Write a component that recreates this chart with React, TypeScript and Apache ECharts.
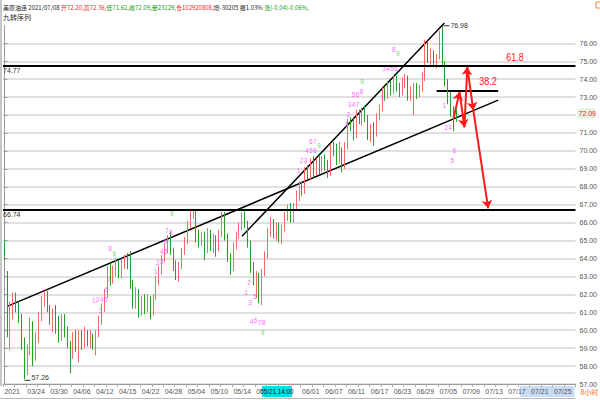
import React, { useEffect, useRef } from "react";
import * as echarts from "echarts";

const FONT = '"Liberation Sans Narrow", "Arial Narrow", "Liberation Sans", Arial, sans-serif';
const CJK = '"Liberation Sans Narrow", "Noto Sans CJK SC", sans-serif';

const slotCount = 200;

const tickLabels = [
  "2021", "03/24", "03/30", "04/06", "04/12", "04/15", "04/22", "04/28", "05/04", "05/10",
  "05/14", "05", "", "06/01", "06/07", "06/11", "06/17", "06/23", "06/29", "07/05",
  "07/09", "07/13", "07/17", "07/21", "07/25",
];

// [open, close, low, high]
const candles: number[][] = [
  [64.8, 64.0, 63.9, 65.0], [63.2, 60.2, 59.6, 63.3], [59.6, 61.4, 58.9, 61.6], [61.4, 61.8, 60.6, 62.1],
  [61.8, 61.3, 61.0, 62.1], [61.3, 60.7, 60.4, 61.6], [60.7, 59.3, 58.9, 60.9], [59.3, 57.6, 57.26, 59.6],
  [57.7, 58.9, 57.5, 59.2], [58.8, 60.3, 58.6, 60.7], [60.3, 58.6, 58.0, 60.5], [58.6, 59.5, 58.3, 59.9],
  [59.5, 60.8, 59.3, 61.0], [60.8, 61.6, 60.5, 61.9], [61.6, 61.9, 61.3, 62.2], [61.9, 61.2, 61.0, 62.2],
  [61.2, 60.6, 60.3, 61.4], [60.5, 61.0, 59.9, 61.2], [61.0, 60.3, 59.8, 61.4], [60.4, 59.6, 59.3, 60.8],
  [59.6, 60.5, 59.4, 60.9], [60.5, 60.0, 59.6, 60.9], [60.0, 59.2, 59.0, 60.2], [59.2, 58.5, 57.6, 59.4],
  [58.6, 59.6, 58.4, 59.9], [59.6, 59.2, 58.8, 60.0], [59.0, 59.8, 58.2, 60.0], [59.7, 59.3, 58.9, 60.0],
  [59.3, 59.9, 59.0, 60.2], [59.8, 59.4, 59.1, 60.0], [59.4, 59.7, 59.0, 60.0], [59.6, 59.1, 58.9, 59.8],
  [59.1, 59.9, 58.6, 60.0], [59.9, 60.6, 59.6, 60.8], [60.5, 61.3, 60.3, 61.5], [61.2, 62.0, 61.0, 62.3],
  [62.0, 63.3, 61.8, 63.6], [63.3, 62.8, 62.5, 63.7], [62.8, 63.4, 62.6, 63.6], [63.4, 63.7, 63.0, 64.0],
  [63.7, 63.2, 62.9, 63.9], [63.2, 63.8, 62.9, 64.0], [63.6, 64.0, 63.4, 64.2], [64.0, 63.6, 63.4, 64.3],
  [64.1, 62.6, 62.3, 64.4], [62.6, 61.6, 61.2, 62.8], [61.6, 62.1, 61.2, 62.4], [62.1, 61.0, 60.7, 62.3],
  [61.0, 61.6, 60.8, 61.9], [61.6, 61.2, 60.9, 62.0], [61.2, 61.7, 61.0, 62.0], [61.7, 60.9, 60.6, 61.9],
  [60.9, 61.9, 60.8, 62.0], [61.9, 62.8, 61.7, 63.0], [62.7, 63.4, 62.5, 63.6], [63.4, 64.0, 63.1, 64.2],
  [64.0, 64.6, 63.8, 64.8], [64.5, 65.1, 64.3, 65.3], [65.1, 64.4, 64.2, 65.5], [64.4, 63.6, 63.3, 64.6],
  [63.6, 63.3, 62.8, 63.9], [63.3, 63.6, 62.7, 63.8], [63.6, 64.4, 63.4, 64.6], [64.4, 65.0, 64.2, 65.2],
  [65.0, 65.9, 64.8, 66.1], [65.9, 66.5, 65.7, 66.7], [66.5, 66.6, 66.2, 66.74], [66.6, 65.3, 64.9, 66.7],
  [65.3, 64.9, 64.6, 65.6], [64.9, 65.3, 64.7, 65.5], [65.3, 64.5, 63.9, 65.5], [64.5, 65.4, 64.3, 65.7],
  [65.4, 64.8, 64.4, 65.6], [64.8, 65.1, 64.3, 65.4], [65.1, 64.5, 64.1, 65.3], [64.5, 65.4, 64.4, 65.6],
  [65.4, 66.4, 65.2, 66.6], [66.4, 65.3, 65.0, 66.6], [65.3, 64.1, 63.8, 65.4], [64.1, 63.4, 63.1, 64.3],
  [63.4, 64.7, 63.3, 64.9], [64.7, 65.3, 64.5, 65.5], [65.3, 65.8, 65.1, 66.0], [65.8, 66.4, 65.6, 66.6],
  [66.4, 65.9, 65.7, 66.7], [65.9, 64.9, 64.6, 66.1], [64.9, 63.5, 63.2, 65.0], [63.5, 62.7, 62.5, 63.8],
  [62.7, 63.0, 61.8, 63.3], [63.0, 61.8, 61.5, 63.2], [61.8, 63.2, 61.4, 63.4], [63.2, 64.2, 63.0, 64.4],
  [64.2, 65.5, 64.0, 65.7], [65.5, 65.9, 65.2, 66.3], [65.9, 65.4, 65.1, 66.2], [65.4, 65.8, 65.0, 66.0],
  [65.8, 65.2, 64.9, 66.0], [65.2, 65.7, 64.8, 65.9], [65.7, 66.3, 65.5, 66.6], [66.3, 66.8, 66.1, 67.0],
  [66.8, 66.2, 66.0, 67.1], [66.2, 66.9, 66.0, 67.1], [66.9, 67.6, 66.7, 67.8], [67.4, 68.1, 67.2, 68.3],
  [68.1, 67.7, 67.5, 68.3], [67.7, 68.9, 67.6, 69.1], [68.9, 68.6, 68.4, 69.2], [68.6, 69.3, 68.4, 69.6],
  [69.3, 68.8, 68.5, 69.7], [68.8, 69.4, 68.6, 69.6], [69.4, 69.0, 68.7, 69.7], [69.0, 69.5, 68.8, 69.7],
  [69.5, 69.2, 68.9, 69.8], [69.2, 68.7, 68.5, 69.5], [68.7, 70.2, 68.6, 70.4], [70.2, 70.0, 69.7, 70.5],
  [70.0, 69.5, 69.2, 70.4], [69.5, 70.1, 69.3, 70.5], [70.1, 69.2, 68.8, 70.2], [69.2, 70.3, 69.0, 70.5],
  [70.3, 71.6, 70.1, 71.8], [71.6, 71.4, 71.1, 71.9], [71.4, 70.8, 70.6, 71.9], [70.8, 72.1, 70.7, 72.3],
  [72.1, 71.7, 71.5, 72.3], [71.7, 72.2, 71.4, 72.4], [72.2, 71.8, 71.6, 72.5], [71.8, 70.8, 70.6, 72.0],
  [70.8, 71.2, 70.5, 71.5], [71.2, 71.0, 70.3, 71.6], [71.0, 71.9, 70.8, 72.1], [71.9, 72.4, 71.7, 72.6],
  [72.4, 73.3, 72.2, 73.5], [73.3, 73.1, 72.8, 73.6], [73.1, 73.6, 72.9, 73.9], [73.6, 73.4, 73.1, 73.9],
  [73.4, 74.0, 73.2, 74.2], [74.0, 73.5, 73.3, 74.2], [73.5, 73.3, 73.0, 73.8], [73.3, 73.9, 73.1, 74.1],
  [73.9, 74.1, 73.5, 74.3], [74.1, 73.0, 72.8, 74.2], [73.0, 73.3, 72.8, 73.6], [73.3, 73.6, 72.0, 73.8],
  [73.6, 73.2, 72.9, 73.8], [73.2, 73.5, 73.0, 73.7], [73.5, 74.2, 73.3, 74.4], [74.2, 76.0, 73.9, 76.2],
  [76.0, 75.1, 74.9, 76.1], [75.1, 75.4, 74.7, 75.7], [75.4, 74.9, 74.7, 75.6], [74.9, 75.2, 74.6, 75.4],
  [75.2, 76.5, 75.1, 76.7], [76.6, 74.9, 74.8, 76.98], [74.9, 73.8, 73.6, 75.0], [73.8, 73.1, 72.6, 74.0],
  [73.1, 72.2, 71.9, 73.3], [72.2, 71.4, 71.1, 72.5], [72.2, 72.09, 71.62, 72.36],
];

const levels = [74.77, 66.74];

// trend lines: [[slot, price], [slot, price]]
const trendLines = [
  [[0.9, 61.33], [172.5, 72.83]],
  [[83.0, 65.24], [153.7, 77.13]],
];
const shortLevel = [[151, 73.33], [172.5, 73.33]];

// red zig-zag projection
const arrowPath = [
  [156.9, 71.82], [159.0, 73.28], [160.7, 71.32], [161.7, 74.68], [163.8, 72.27], [169.0, 66.8],
];

// TD sequence count labels
const tdSlot = [
  31.2, 32.6, 33.6, 34.0, 35.4, 35.8, 36.5, 36.9, 38.3,
  52.9, 53.6, 55.0, 55.0, 56.4, 56.1, 56.7, 58.1, 58.5,
  84.4, 85.5, 85.8, 86.3, 87.5, 87.7, 89.1, 90.5, 90.2,
  102.8, 103.8, 105.2, 105.6, 107.0, 107.0, 108.4, 108.4, 109.8,
  119.4, 120.1, 120.6, 122.0, 122.0, 123.4, 123.4, 124.8, 124.9,
  131.9, 132.6, 134.0, 135.4, 136.8, 136.0, 137.4,
  153.7, 154.3, 155.7, 156.5, 157.2,
];
const tdPrice = [
  61.66, 61.72, 61.10, 61.70, 61.70, 62.25, 62.85, 64.55, 64.30,
  63.28, 63.80, 63.84, 64.40, 64.40, 64.95, 65.55, 65.45, 66.52,
  62.11, 62.65, 61.55, 60.50, 61.90, 60.55, 60.45, 60.45, 59.90,
  68.90, 69.45, 69.45, 70.00, 70.00, 70.55, 70.55, 70.00, 70.30,
  71.49, 72.05, 72.60, 72.60, 73.15, 73.15, 72.60, 73.30, 73.85,
  73.00, 74.62, 74.62, 74.62, 74.62, 75.63, 75.46,
  72.55, 71.32, 71.32, 69.48, 70.04,
];
const tdText = [
  "1", "2", "3", "4", "5", "6", "7", "8", "9",
  "1", "2", "3", "4", "5", "6", "7", "8", "9",
  "1", "2", "3", "4", "5", "6", "7", "8", "9",
  "1", "2", "3", "4", "5", "6", "7", "8", "9",
  "1", "2", "3", "4", "5", "6", "7", "8", "9",
  "1", "3", "4", "5", "6", "8", "9",
  "1", "2", "4", "5", "6",
];

const peak = { slot: 153, price: 76.98 };
const trough = { slot: 7, price: 57.26 };
const lastPrice = 72.09;
const fibLabels = [
  { text: "61.8", slot: 175.3, price: 75.23 },
  { text: "38.2", slot: 165.9, price: 73.89 },
];
const crosshair = { text: "05/21,14:00", slot: 89.97 };
const selStartSlot = 180.1;

export default function App() {
  const ref = useRef<HTMLDivElement>(null);
  useEffect(() => {
    const chart = echarts.init(ref.current!, null, { renderer: "svg" });
    const categories = candles.map((_, i) => "s" + i);
    while (categories.length < slotCount) categories.push("s" + categories.length);
    const gridColors: string[] = [];
    for (let v = 57; v <= 77; v++) gridColors.push(v === 77 ? "rgba(0,0,0,0)" : "#d6d6d6");

    chart.setOption({
      animation: false,
      backgroundColor: "#ffffff",
      grid: { left: 3, right: 20, top: 25.4, bottom: 16, containLabel: false },
      xAxis: [
        {
          type: "category",
          data: categories,
          boundaryGap: true,
          z: 10,
          axisLine: { lineStyle: { color: "#9a9a9a" } },
          axisTick: { show: true, interval: 3, length: 3, lineStyle: { color: "#aaaaaa" } },
          axisLabel: {
            interval: 7,
            margin: 4,
            align: "left",
            fontSize: 7,
            color: "#555555",
            fontFamily: FONT,
            formatter: (_v: string, i: number) => (i % 8 === 0 ? tickLabels[i / 8] ?? "" : ""),
          },
          splitLine: { show: false },
        },
        { type: "value", min: -0.5, max: slotCount - 0.5, show: false },
      ],
      yAxis: {
        type: "value",
        position: "right",
        min: 57,
        max: 77,
        interval: 1,
        axisLine: { show: true, lineStyle: { color: "#9a9a9a" } },
        axisTick: { show: true, length: 3, lineStyle: { color: "#999999" } },
        axisLabel: {
          margin: 4,
          fontSize: 7,
          color: "#555555",
          fontFamily: FONT,
          showMaxLabel: false,
          formatter: (v: number) => (Math.abs(v - lastPrice) < 0.5 ? "" : v.toFixed(2)),
        },
        splitLine: { show: true, lineStyle: { color: gridColors, width: 1.5 } },
      },
      series: [
        {
          type: "candlestick",
          xAxisIndex: 0,
          yAxisIndex: 0,
          data: candles,
          barWidth: 1.2,
          silent: true,
          itemStyle: {
            color: "#f26a6a",
            color0: "#2a9c2a",
            borderColor: "#f26a6a",
            borderColor0: "#2a9c2a",
            borderWidth: 1,
          },
          markLine: {
            silent: true,
            symbol: ["none", "none"],
            lineStyle: { color: "#000000", width: 2, type: "solid" },
            label: {
              position: "insideStartBottom",
              distance: [0, 2],
              fontSize: 7,
              color: "#333333",
              fontFamily: FONT,
              formatter: (p: any) => Number(p.value).toFixed(2),
            },
            data: levels.map((v) => ({ yAxis: v })),
          },
        },
        {
          type: "lines",
          coordinateSystem: "cartesian2d",
          xAxisIndex: 1,
          yAxisIndex: 0,
          clip: false,
          silent: true,
          symbol: "none",
          lineStyle: { color: "#000000", width: 1.5, opacity: 1 },
          data: trendLines.map((c) => ({ coords: c })),
        },
        {
          type: "lines",
          coordinateSystem: "cartesian2d",
          xAxisIndex: 1,
          yAxisIndex: 0,
          silent: true,
          symbol: "none",
          lineStyle: { color: "#000000", width: 2, opacity: 1 },
          data: [{ coords: shortLevel }],
        },
        {
          type: "lines",
          coordinateSystem: "cartesian2d",
          xAxisIndex: 1,
          yAxisIndex: 0,
          silent: true,
          symbol: ["none", "arrow"],
          symbolSize: 8,
          lineStyle: { color: "#ff1a1a", width: 2, opacity: 1 },
          data: arrowPath.slice(1).map((p, i) => ({ coords: [arrowPath[i], p] })),
        },
        {
          type: "scatter",
          xAxisIndex: 1,
          yAxisIndex: 0,
          silent: true,
          symbolSize: 1,
          itemStyle: { color: "rgba(0,0,0,0)" },
          label: {
            show: true,
            position: "inside",
            fontSize: 6.5,
            fontFamily: FONT,
            formatter: (p: any) => p.value[2],
          },
          data: tdSlot.map((s, i) => ({
            value: [s, tdPrice[i], tdText[i]],
            label: { color: tdText[i] === "9" ? "#3cc83c" : "#ff3cff" },
          })),
        },
      ],
    });

    const pt = (s: number, p: number) =>
      chart.convertToPixel({ xAxisIndex: 1, yAxisIndex: 0 }, [s, p]) as number[];
    const bottomY = pt(0, 57)[1];
    const pk = pt(peak.slot, peak.price);
    const tr = pt(trough.slot, trough.price);
    const lp = pt(0, lastPrice);
    const ch = pt(crosshair.slot, 57);
    const sel = pt(selStartSlot, 57);
    const rightX = pt(slotCount - 0.5, 57)[0];

    const graphic: any[] = [
      { type: "rect", z: 1, shape: { x: sel[0], y: bottomY + 2, width: rightX - sel[0] - 1, height: 11 }, style: { fill: "#c9dcf3" } },
      { type: "rect", shape: { x: 0, y: 0, width: 2, height: bottomY + 2 }, style: { fill: "#c8c8c8" } },
      { type: "line", shape: { x1: 0, y1: 398.5, x2: rightX, y2: 398.5 }, style: { stroke: "#bbbbbb", lineWidth: 1 } },
      {
        type: "text",
        x: 3,
        y: 7,
        style: {
          text:
            "{k|美原油连 2021/07/08 }{r|开72.20,高72.36,}{g|低71.62,收72.09,量23129,}{r|仓102920808,}{k|增-30205 振1.03% }{g|涨(-0.04)-0.06%,}",
          verticalAlign: "middle",
          font: "6px " + CJK,
          rich: {
            k: { fill: "#222222", color: "#222222", fontSize: 6, fontFamily: CJK },
            r: { fill: "#ff2020", color: "#ff2020", fontSize: 6, fontFamily: CJK },
            g: { fill: "#189a18", color: "#189a18", fontSize: 6, fontFamily: CJK },
          },
        },
      },
      { type: "text", x: 3, y: 17, style: { text: "九转序列", fill: "#222222", fontSize: 7, fontFamily: CJK, verticalAlign: "middle" } },
      { type: "rect", shape: { x: 596, y: 2, width: 5, height: 6 }, style: { fill: "none", stroke: "#ff8040", lineWidth: 1 } },
      { type: "line", shape: { x1: pk[0] + 1, y1: pk[1], x2: pk[0] + 7, y2: pk[1] }, style: { stroke: "#333333", lineWidth: 1 } },
      { type: "text", x: pk[0] + 8, y: pk[1], style: { text: peak.price.toFixed(2), fill: "#333333", fontSize: 7, fontFamily: FONT, verticalAlign: "middle" } },
      { type: "line", shape: { x1: tr[0], y1: tr[1] + 1, x2: tr[0] + 6, y2: tr[1] + 1 }, style: { stroke: "#333333", lineWidth: 1 } },
      { type: "text", x: tr[0] + 7, y: tr[1] - 2, style: { text: trough.price.toFixed(2), fill: "#333333", fontSize: 7, fontFamily: FONT, verticalAlign: "middle" } },
      ...fibLabels.map((f) => {
        const p = pt(f.slot, f.price);
        return { type: "text", x: p[0], y: p[1], scaleX: 0.82, style: { text: f.text, fill: "#ff2020", fontSize: 11, fontFamily: FONT, verticalAlign: "middle" } };
      }),
      { type: "rect", shape: { x: rightX + 2, y: lp[1] - 5, width: 18, height: 10 }, style: { fill: "#e3f3e3" } },
      { type: "text", x: rightX + 3, y: lp[1], style: { text: lastPrice.toFixed(2), fill: "#ff2020", fontSize: 7, fontFamily: FONT, verticalAlign: "middle" } },
      { type: "rect", z: 50, shape: { x: ch[0], y: bottomY + 2, width: 30, height: 11 }, style: { fill: "#00e0ea" } },
      { type: "text", z: 51, x: ch[0] + 15, y: bottomY + 7.5, scaleX: 0.9, style: { text: crosshair.text, fill: "#111111", fontSize: 7, fontFamily: FONT, align: "center", verticalAlign: "middle" } },
      { type: "text", x: rightX + 5, y: bottomY + 8, style: { text: "8小时", fill: "#ff6a00", fontSize: 7, fontFamily: CJK, verticalAlign: "middle" } },
    ];
    chart.setOption({ graphic });

    return () => chart.dispose();
  }, []);

  return (
    <div
      ref={ref}
      style={{ position: "fixed", left: 0, top: 0, width: 600, height: 400, background: "#ffffff" }}
    />
  );
}
